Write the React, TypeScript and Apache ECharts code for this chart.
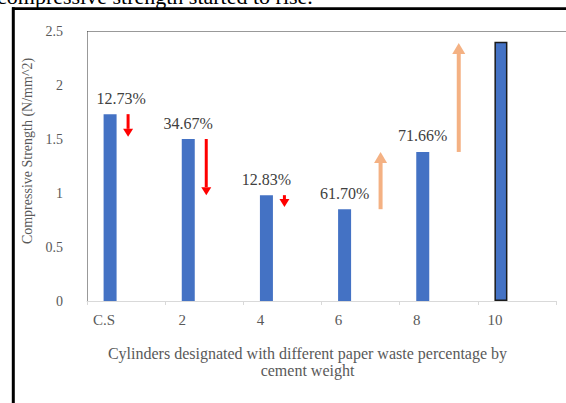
import React, { useEffect, useRef } from "react";
import * as echarts from "echarts";

const categories = ["C.S", "2", "4", "6", "8", "10"];
const strength = [1.73, 1.5, 0.98, 0.85, 1.38, 2.4];
const changeLabels = ["12.73%", "34.67%", "12.83%", "61.70%", "71.66%", ""];
const arrowCategory = [0, 1, 2, 3, 4];
const arrowFrom = [1.73, 1.5, 0.98, 0.85, 1.38];
const arrowTo = [1.52, 0.98, 0.87, 1.38, 2.39];
const arrowDirection = ["down", "down", "down", "up", "up"];

const SERIF = "Liberation Serif";

export default function App() {
  const ref = useRef<HTMLDivElement>(null);
  useEffect(() => {
    if (!ref.current) return;
    const chart = echarts.init(ref.current, null, { renderer: "svg" });
    const arrowData = arrowCategory.map((c, i) => [
      c,
      arrowFrom[i],
      arrowTo[i],
      arrowDirection[i] === "up" ? 1 : 0,
    ]);
    chart.setOption({
      animation: false,
      backgroundColor: "#ffffff",
      textStyle: { fontFamily: SERIF },
      grid: { left: 87, right: 10, top: 31, bottom: 102, containLabel: false },
      xAxis: {
        type: "category",
        data: categories,
        boundaryGap: true,
        axisLine: { show: true, lineStyle: { color: "#d9d9d9", width: 1 } },
        axisTick: { show: true, length: 4, lineStyle: { color: "#d9d9d9" } },
        axisLabel: {
          color: "#595959",
          fontFamily: SERIF,
          fontSize: 15,
          margin: 11,
          padding: [0, 44, 0, 0],
        },
        name: "Cylinders designated with different paper waste percentage by\ncement weight",
        nameLocation: "middle",
        nameGap: 44,
        nameTextStyle: {
          color: "#595959",
          fontFamily: SERIF,
          fontSize: 16,
          lineHeight: 17,
          padding: [0, 28, 0, 0],
        },
      },
      yAxis: {
        type: "value",
        min: 0,
        max: 2.5,
        interval: 0.5,
        splitLine: { show: false },
        axisLine: { show: false },
        axisTick: { show: false },
        axisLabel: {
          color: "#595959",
          fontFamily: SERIF,
          fontSize: 14,
          margin: 24,
        },
        name: "Compressive Strength (N/mm^2)",
        nameLocation: "middle",
        nameGap: 46,
        nameTextStyle: {
          color: "#595959",
          fontFamily: SERIF,
          fontSize: 14,
          padding: [0, 0, 0, 30],
        },
      },
      series: [
        {
          type: "bar",
          barWidth: 13,
          barGap: "146%",
          data: strength.map((v, i) => ({
            value: v,
            itemStyle:
              i === strength.length - 1
                ? { color: "#4472C4", borderColor: "#1a1a1a", borderWidth: 1.5 }
                : { color: "#4472C4" },
            label: i === 0 ? { offset: [11, 0] } : undefined,
          })),
          label: {
            show: true,
            position: "top",
            distance: 8,
            color: "#404040",
            fontFamily: SERIF,
            fontSize: 16,
            formatter: (p: any) => changeLabels[p.dataIndex],
          },
        },
        {
          type: "bar",
          barWidth: 13,
          barGap: "146%",
          data: categories.map(() => "-"),
        },
        {
          type: "custom",
          clip: false,
          data: arrowData,
          renderItem: (params: any, api: any) => {
            const c = api.value(0);
            const a = api.coord([c, api.value(1)]);
            const b = api.coord([c, api.value(2)]);
            const up = api.value(3) === 1;
            const x = a[0] + (up ? 20 : 2);
            const color = up ? "#F4B183" : "#FF0000";
            const shaftW = up ? 4 : 3;
            const headW = up ? 13 : 10;
            const headL = up ? 11 : 8;
            const y0 = a[1];
            const y1 = b[1];
            const dir = y1 > y0 ? 1 : -1;
            const headBase = y1 - dir * headL;
            return {
              type: "group",
              children: [
                {
                  type: "line",
                  shape: { x1: x, y1: y0, x2: x, y2: headBase },
                  style: { stroke: color, lineWidth: shaftW },
                },
                {
                  type: "polygon",
                  shape: {
                    points: [
                      [x - headW / 2, headBase],
                      [x + headW / 2, headBase],
                      [x, y1],
                    ],
                  },
                  style: { fill: color },
                },
              ],
            };
          },
        },
      ],
      graphic: [
        {
          type: "text",
          x: -3,
          y: 7.5,
          style: {
            text: "compressive strength started to rise.",
            font: `22px ${SERIF}`,
            fill: "#000000",
            verticalAlign: "bottom",
          },
        },
        {
          type: "line",
          shape: { x1: 13.3, y1: 7.3, x2: 13.3, y2: 403 },
          style: { stroke: "#000000", lineWidth: 3 },
        },
        {
          type: "line",
          shape: { x1: 12, y1: 8.7, x2: 566, y2: 8.7 },
          style: { stroke: "#000000", lineWidth: 2.7 },
        },
        {
          type: "line",
          shape: { x1: 87.5, y1: 31.5, x2: 87.5, y2: 301 },
          style: { stroke: "#333333", lineWidth: 1, lineDash: [1, 1] },
        },
        {
          type: "line",
          shape: { x1: 87.5, y1: 31.5, x2: 566, y2: 31.5 },
          style: { stroke: "#333333", lineWidth: 1, lineDash: [1, 1] },
        },
      ],
    });
    return () => chart.dispose();
  }, []);
  return (
    <div
      ref={ref}
      style={{ position: "absolute", left: 0, top: 0, width: 566, height: 403 }}
    />
  );
}
